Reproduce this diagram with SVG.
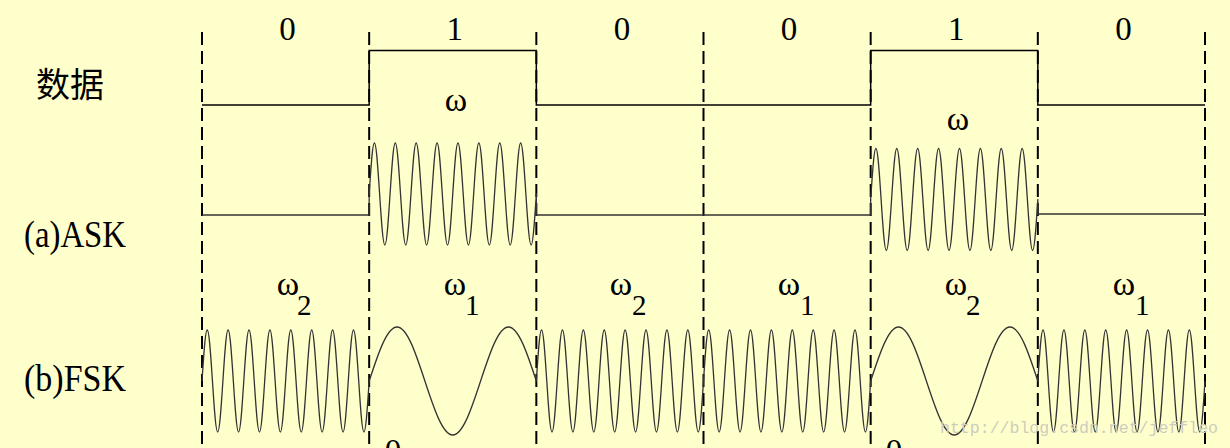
<svg xmlns="http://www.w3.org/2000/svg" width="1230" height="448" viewBox="0 0 1230 448">
<defs>
<style>
.bg{fill:#FFFFCC}
.grid{stroke:#000;stroke-width:2;stroke-dasharray:13 6;fill:none}
.data{stroke:#000;stroke-width:1.5;fill:none}
.wave{stroke:#333;stroke-width:1.3;fill:none;stroke-linejoin:round}
.t{font-family:"Liberation Serif","Times New Roman",serif;fill:#000}
.bit{font-size:33px;text-anchor:middle}
.om{font-size:34px;text-anchor:middle}
.sub{font-size:29px}
.lbl{font-size:37px}
.cjk{font-family:"Liberation Serif","Noto Sans CJK SC",sans-serif;font-size:34px;fill:#000}
.wm{font-family:"Liberation Mono","Courier New",monospace;font-size:16.5px;fill:#cdcdbd}
</style>
</defs>
<rect class="bg" x="0" y="0" width="1230" height="448"/>

<g id="gridlines">
<line class="grid" x1="202" y1="32" x2="202" y2="448"/>
<line class="grid" x1="369.17" y1="32" x2="369.17" y2="448"/>
<line class="grid" x1="536.33" y1="32" x2="536.33" y2="448"/>
<line class="grid" x1="703.5" y1="32" x2="703.5" y2="448"/>
<line class="grid" x1="870.67" y1="32" x2="870.67" y2="448"/>
<line class="grid" x1="1037.83" y1="32" x2="1037.83" y2="448"/>
<line class="grid" x1="1205" y1="32" x2="1205" y2="448"/>
</g>

<g id="bits" class="t bit">
<text x="287.6" y="40">0</text>
<text x="454.7" y="40">1</text>
<text x="621.9" y="40">0</text>
<text x="789.1" y="40">0</text>
<text x="956.2" y="40">1</text>
<text x="1123.4" y="40">0</text>
</g>

<g id="row-labels">
<text class="cjk" x="36" y="97">数据</text>
<text class="t lbl" x="24" y="247" textLength="102" lengthAdjust="spacingAndGlyphs">(a)ASK</text>
<text class="t lbl" x="24" y="391" textLength="102" lengthAdjust="spacingAndGlyphs">(b)FSK</text>
</g>

<g id="data-trace">
<path class="data" d="M202,105 H369.17 V50.5 H536.33 V105 H870.67 V50.5 H1037.83 V105 H1205"/>
</g>

<g id="ask-trace">
<path class="wave" d="M202,215 H369.17 V194
c1.704,-26.13 3.333,-51 5.224,-51 c1.891,0 3.52,24.87 5.224,51 c1.704,26.13 3.333,51 5.224,51 c1.891,0 3.52,-24.87 5.224,-51
c1.704,-26.13 3.333,-51 5.224,-51 c1.891,0 3.52,24.87 5.224,51 c1.704,26.13 3.333,51 5.224,51 c1.891,0 3.52,-24.87 5.224,-51
c1.704,-26.13 3.333,-51 5.224,-51 c1.891,0 3.52,24.87 5.224,51 c1.704,26.13 3.333,51 5.224,51 c1.891,0 3.52,-24.87 5.224,-51
c1.704,-26.13 3.333,-51 5.224,-51 c1.891,0 3.52,24.87 5.224,51 c1.704,26.13 3.333,51 5.224,51 c1.891,0 3.52,-24.87 5.224,-51
c1.704,-26.13 3.333,-51 5.224,-51 c1.891,0 3.52,24.87 5.224,51 c1.704,26.13 3.333,51 5.224,51 c1.891,0 3.52,-24.87 5.224,-51
c1.704,-26.13 3.333,-51 5.224,-51 c1.891,0 3.52,24.87 5.224,51 c1.704,26.13 3.333,51 5.224,51 c1.891,0 3.52,-24.87 5.224,-51
c1.704,-26.13 3.333,-51 5.224,-51 c1.891,0 3.52,24.87 5.224,51 c1.704,26.13 3.333,51 5.224,51 c1.891,0 3.52,-24.87 5.224,-51
c1.704,-26.13 3.333,-51 5.224,-51 c1.891,0 3.52,24.87 5.224,51 c1.704,26.13 3.333,51 5.224,51 c1.891,0 3.52,-24.87 5.224,-51
V215 H870.67 V199.5
c1.704,-26.13 3.333,-51 5.224,-51 c1.891,0 3.52,24.87 5.224,51 c1.704,26.13 3.333,51 5.224,51 c1.891,0 3.52,-24.87 5.224,-51
c1.704,-26.13 3.333,-51 5.224,-51 c1.891,0 3.52,24.87 5.224,51 c1.704,26.13 3.333,51 5.224,51 c1.891,0 3.52,-24.87 5.224,-51
c1.704,-26.13 3.333,-51 5.224,-51 c1.891,0 3.52,24.87 5.224,51 c1.704,26.13 3.333,51 5.224,51 c1.891,0 3.52,-24.87 5.224,-51
c1.704,-26.13 3.333,-51 5.224,-51 c1.891,0 3.52,24.87 5.224,51 c1.704,26.13 3.333,51 5.224,51 c1.891,0 3.52,-24.87 5.224,-51
c1.704,-26.13 3.333,-51 5.224,-51 c1.891,0 3.52,24.87 5.224,51 c1.704,26.13 3.333,51 5.224,51 c1.891,0 3.52,-24.87 5.224,-51
c1.704,-26.13 3.333,-51 5.224,-51 c1.891,0 3.52,24.87 5.224,51 c1.704,26.13 3.333,51 5.224,51 c1.891,0 3.52,-24.87 5.224,-51
c1.704,-26.13 3.333,-51 5.224,-51 c1.891,0 3.52,24.87 5.224,51 c1.704,26.13 3.333,51 5.224,51 c1.891,0 3.52,-24.87 5.224,-51
c1.704,-26.13 3.333,-51 5.224,-51 c1.891,0 3.52,24.87 5.224,51 c1.704,26.13 3.333,51 5.224,51 c1.891,0 3.52,-24.87 5.224,-51
V214 H1205"/>
<text class="t om" x="456" y="111">ω</text>
<text class="t om" x="958" y="130">ω</text>
</g>

<g id="fsk-trace">
<path class="wave" d="M202,381
c1.704,-26.13 3.333,-51 5.224,-51 c1.891,0 3.52,24.87 5.224,51 c1.704,26.13 3.333,51 5.224,51 c1.891,0 3.52,-24.87 5.224,-51
c1.704,-26.13 3.333,-51 5.224,-51 c1.891,0 3.52,24.87 5.224,51 c1.704,26.13 3.333,51 5.224,51 c1.891,0 3.52,-24.87 5.224,-51
c1.704,-26.13 3.333,-51 5.224,-51 c1.891,0 3.52,24.87 5.224,51 c1.704,26.13 3.333,51 5.224,51 c1.891,0 3.52,-24.87 5.224,-51
c1.704,-26.13 3.333,-51 5.224,-51 c1.891,0 3.52,24.87 5.224,51 c1.704,26.13 3.333,51 5.224,51 c1.891,0 3.52,-24.87 5.224,-51
c1.704,-26.13 3.333,-51 5.224,-51 c1.891,0 3.52,24.87 5.224,51 c1.704,26.13 3.333,51 5.224,51 c1.891,0 3.52,-24.87 5.224,-51
c1.704,-26.13 3.333,-51 5.224,-51 c1.891,0 3.52,24.87 5.224,51 c1.704,26.13 3.333,51 5.224,51 c1.891,0 3.52,-24.87 5.224,-51
c1.704,-26.13 3.333,-51 5.224,-51 c1.891,0 3.52,24.87 5.224,51 c1.704,26.13 3.333,51 5.224,51 c1.891,0 3.52,-24.87 5.224,-51
c1.704,-26.13 3.333,-51 5.224,-51 c1.891,0 3.52,24.87 5.224,51 c1.704,26.13 3.333,51 5.224,51 c1.891,0 3.52,-24.87 5.224,-51
c9.085,-27.66 17.78,-54 27.86,-54 c10.08,0 18.78,26.34 27.86,54 c9.085,27.66 17.78,54 27.86,54 c10.08,0 18.78,-26.34 27.86,-54 c9.085,-27.66 17.78,-54 27.86,-54 c10.08,0 18.78,26.34 27.86,54
c1.704,-26.13 3.333,-51 5.224,-51 c1.891,0 3.52,24.87 5.224,51 c1.704,26.13 3.333,51 5.224,51 c1.891,0 3.52,-24.87 5.224,-51
c1.704,-26.13 3.333,-51 5.224,-51 c1.891,0 3.52,24.87 5.224,51 c1.704,26.13 3.333,51 5.224,51 c1.891,0 3.52,-24.87 5.224,-51
c1.704,-26.13 3.333,-51 5.224,-51 c1.891,0 3.52,24.87 5.224,51 c1.704,26.13 3.333,51 5.224,51 c1.891,0 3.52,-24.87 5.224,-51
c1.704,-26.13 3.333,-51 5.224,-51 c1.891,0 3.52,24.87 5.224,51 c1.704,26.13 3.333,51 5.224,51 c1.891,0 3.52,-24.87 5.224,-51
c1.704,-26.13 3.333,-51 5.224,-51 c1.891,0 3.52,24.87 5.224,51 c1.704,26.13 3.333,51 5.224,51 c1.891,0 3.52,-24.87 5.224,-51
c1.704,-26.13 3.333,-51 5.224,-51 c1.891,0 3.52,24.87 5.224,51 c1.704,26.13 3.333,51 5.224,51 c1.891,0 3.52,-24.87 5.224,-51
c1.704,-26.13 3.333,-51 5.224,-51 c1.891,0 3.52,24.87 5.224,51 c1.704,26.13 3.333,51 5.224,51 c1.891,0 3.52,-24.87 5.224,-51
c1.704,-26.13 3.333,-51 5.224,-51 c1.891,0 3.52,24.87 5.224,51 c1.704,26.13 3.333,51 5.224,51 c1.891,0 3.52,-24.87 5.224,-51
c1.704,-26.13 3.333,-51 5.224,-51 c1.891,0 3.52,24.87 5.224,51 c1.704,26.13 3.333,51 5.224,51 c1.891,0 3.52,-24.87 5.224,-51
c1.704,-26.13 3.333,-51 5.224,-51 c1.891,0 3.52,24.87 5.224,51 c1.704,26.13 3.333,51 5.224,51 c1.891,0 3.52,-24.87 5.224,-51
c1.704,-26.13 3.333,-51 5.224,-51 c1.891,0 3.52,24.87 5.224,51 c1.704,26.13 3.333,51 5.224,51 c1.891,0 3.52,-24.87 5.224,-51
c1.704,-26.13 3.333,-51 5.224,-51 c1.891,0 3.52,24.87 5.224,51 c1.704,26.13 3.333,51 5.224,51 c1.891,0 3.52,-24.87 5.224,-51
c1.704,-26.13 3.333,-51 5.224,-51 c1.891,0 3.52,24.87 5.224,51 c1.704,26.13 3.333,51 5.224,51 c1.891,0 3.52,-24.87 5.224,-51
c1.704,-26.13 3.333,-51 5.224,-51 c1.891,0 3.52,24.87 5.224,51 c1.704,26.13 3.333,51 5.224,51 c1.891,0 3.52,-24.87 5.224,-51
c1.704,-26.13 3.333,-51 5.224,-51 c1.891,0 3.52,24.87 5.224,51 c1.704,26.13 3.333,51 5.224,51 c1.891,0 3.52,-24.87 5.224,-51
c1.704,-26.13 3.333,-51 5.224,-51 c1.891,0 3.52,24.87 5.224,51 c1.704,26.13 3.333,51 5.224,51 c1.891,0 3.52,-24.87 5.224,-51
c9.085,-27.66 17.78,-54 27.86,-54 c10.08,0 18.78,26.34 27.86,54 c9.085,27.66 17.78,54 27.86,54 c10.08,0 18.78,-26.34 27.86,-54 c9.085,-27.66 17.78,-54 27.86,-54 c10.08,0 18.78,26.34 27.86,54
c1.704,-26.13 3.333,-51 5.224,-51 c1.891,0 3.52,24.87 5.224,51 c1.704,26.13 3.333,51 5.224,51 c1.891,0 3.52,-24.87 5.224,-51
c1.704,-26.13 3.333,-51 5.224,-51 c1.891,0 3.52,24.87 5.224,51 c1.704,26.13 3.333,51 5.224,51 c1.891,0 3.52,-24.87 5.224,-51
c1.704,-26.13 3.333,-51 5.224,-51 c1.891,0 3.52,24.87 5.224,51 c1.704,26.13 3.333,51 5.224,51 c1.891,0 3.52,-24.87 5.224,-51
c1.704,-26.13 3.333,-51 5.224,-51 c1.891,0 3.52,24.87 5.224,51 c1.704,26.13 3.333,51 5.224,51 c1.891,0 3.52,-24.87 5.224,-51
c1.704,-26.13 3.333,-51 5.224,-51 c1.891,0 3.52,24.87 5.224,51 c1.704,26.13 3.333,51 5.224,51 c1.891,0 3.52,-24.87 5.224,-51
c1.704,-26.13 3.333,-51 5.224,-51 c1.891,0 3.52,24.87 5.224,51 c1.704,26.13 3.333,51 5.224,51 c1.891,0 3.52,-24.87 5.224,-51
c1.704,-26.13 3.333,-51 5.224,-51 c1.891,0 3.52,24.87 5.224,51 c1.704,26.13 3.333,51 5.224,51 c1.891,0 3.52,-24.87 5.224,-51
c1.704,-26.13 3.333,-51 5.224,-51 c1.891,0 3.52,24.87 5.224,51 c1.704,26.13 3.333,51 5.224,51 c1.891,0 3.52,-24.87 5.224,-51"/>
<g class="t">
<text class="om" x="288" y="295">ω</text><text class="sub" x="297" y="315">2</text>
<text class="om" x="455" y="295">ω</text><text class="sub" x="465" y="315">1</text>
<text class="om" x="621" y="295">ω</text><text class="sub" x="632" y="315">2</text>
<text class="om" x="789" y="295">ω</text><text class="sub" x="800" y="315">1</text>
<text class="om" x="956" y="295">ω</text><text class="sub" x="966" y="315">2</text>
<text class="om" x="1124" y="295">ω</text><text class="sub" x="1135" y="315">1</text>
</g>
</g>

<g id="cut-labels" class="t bit">
<text x="393" y="462">0</text>
<text x="894" y="462">0</text>
</g>

<text class="wm" x="940" y="433" textLength="278" lengthAdjust="spacingAndGlyphs">http://blog.csdn.net/jeffleo</text>
</svg>
